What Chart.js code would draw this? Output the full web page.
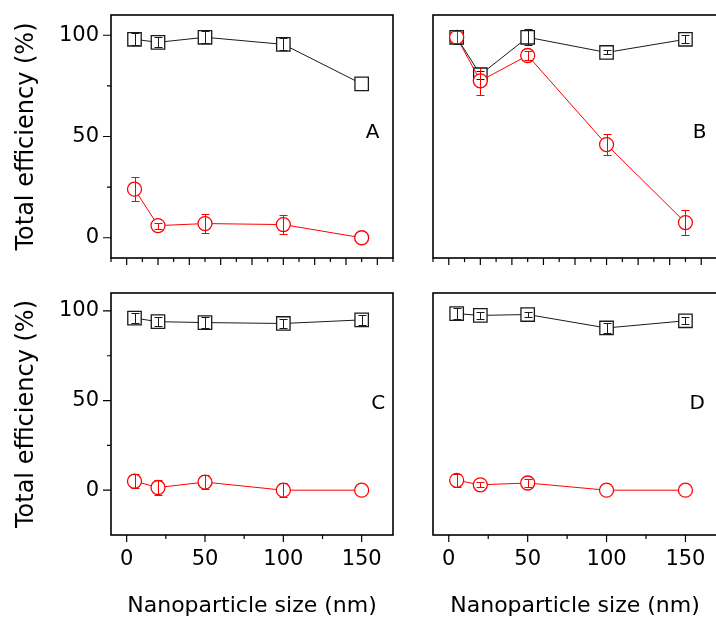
<!DOCTYPE html>
<html>
<head>
<meta charset="utf-8">
<title>Total efficiency vs nanoparticle size</title>
<script src="https://cdn.jsdelivr.net/npm/chart.js"></script>
<style>
  html, body { margin: 0; padding: 0; background: #fff; }
  body { width: 716px; height: 619px; position: relative; overflow: hidden; }
  canvas { position: absolute; }
  #panelA { left: 0; top: 0; }
  #panelB { left: 400px; top: 0; }
  #panelC { left: 0; top: 280px; }
  #panelD { left: 400px; top: 280px; }
</style>
</head>
<body>
<canvas id="panelA" width="400" height="280"></canvas>
<canvas id="panelB" width="318" height="280"></canvas>
<canvas id="panelC" width="400" height="339"></canvas>
<canvas id="panelD" width="318" height="339"></canvas>
<script>
// nanoparticle sizes (nm)
const sizes = [5, 20, 50, 100, 150];

// panel A
const squaresA = [98, 96.5, 99, 95.5, 76];
const squaresErrA = [3, 2.5, 3, 3, 0];
const circlesA = [24, 6, 7, 6.5, 0];
const circlesErrA = [6, 1.5, 4.5, 4.5, 0];

// panel B
const squaresB = [99, 80.5, 99, 91.5, 98];
const squaresErrB = [3.5, 2, 4, 1, 2];
const circlesB = [99, 77.5, 90, 46, 7.5];
const circlesErrB = [3, 7, 2, 5, 6];

// panel C
const squaresC = [96, 94, 93.5, 93, 95];
const squaresErrC = [3, 2.5, 3, 2.5, 3];
const circlesC = [5, 1.5, 4.5, 0, 0];
const circlesErrC = [4, 4, 4, 4, 0];

// panel D
const squaresD = [98.5, 97.5, 98, 90.5, 94.5];
const squaresErrD = [3, 2, 1.5, 3, 2];
const circlesD = [5.5, 3, 4, 0, 0];
const circlesErrD = [3.5, 1.5, 2, 0, 0];

// tick labels
const xTickLabels = [0, 50, 100, 150];
const yTickLabels = [0, 50, 100];

const FONT = 'DejaVu Sans';

function range(from, to, step) {
  const out = [];
  for (let v = from; v <= to + 1e-9; v += step) out.push(v);
  return out;
}

function pairs(values) {
  return sizes.map((s, i) => ({ x: s, y: values[i] }));
}

// vertical error bars with caps, drawn over the markers
const errorBars = {
  id: 'errorBars',
  afterDatasetsDraw(chart) {
    const ctx = chart.ctx;
    const xs = chart.scales.x, ys = chart.scales.y;
    chart.data.datasets.forEach(ds => {
      if (!ds.errors) return;
      ctx.save();
      ctx.strokeStyle = ds.borderColor;
      ctx.lineWidth = 1;
      ctx.beginPath();
      ds.data.forEach((p, i) => {
        const e = ds.errors[i];
        if (!e) return;
        const x = Math.round(xs.getPixelForValue(p.x)) + 0.5;
        const y1 = Math.round(ys.getPixelForValue(p.y + e)) + 0.5;
        const y2 = Math.round(ys.getPixelForValue(p.y - e)) + 0.5;
        ctx.moveTo(x, y1); ctx.lineTo(x, y2);
        ctx.moveTo(x - 4, y1); ctx.lineTo(x + 4, y1);
        ctx.moveTo(x - 4, y2); ctx.lineTo(x + 4, y2);
      });
      ctx.stroke();
      ctx.restore();
    });
  }
};

// box frame, outward ticks and the panel letter
const frame = {
  id: 'frame',
  afterDraw(chart, args, opts) {
    const { ctx, chartArea: a } = chart;
    const xs = chart.scales.x, ys = chart.scales.y;
    ctx.save();
    ctx.strokeStyle = '#000';
    ctx.lineWidth = 1.2;
    ctx.beginPath();
    opts.xMajor.forEach(v => { const p = xs.getPixelForValue(v); ctx.moveTo(p, a.bottom); ctx.lineTo(p, a.bottom + 7); });
    opts.xMinor.forEach(v => { const p = xs.getPixelForValue(v); ctx.moveTo(p, a.bottom); ctx.lineTo(p, a.bottom + 4); });
    opts.yMajor.forEach(v => { const p = ys.getPixelForValue(v); ctx.moveTo(a.left, p); ctx.lineTo(a.left - 8, p); });
    opts.yMinor.forEach(v => { const p = ys.getPixelForValue(v); ctx.moveTo(a.left, p); ctx.lineTo(a.left - 4, p); });
    ctx.stroke();
    ctx.lineWidth = 1.6;
    ctx.strokeRect(a.left, a.top, a.right - a.left, a.bottom - a.top);
    ctx.fillStyle = '#000';
    ctx.font = '20px "' + FONT + '"';
    ctx.textAlign = 'center';
    ctx.textBaseline = 'middle';
    ctx.fillText(opts.letter, xs.getPixelForValue(opts.letterAt[0]), ys.getPixelForValue(opts.letterAt[1]));
    ctx.restore();
  }
};

function makePanel(id, p) {
  new Chart(document.getElementById(id), {
    type: 'line',
    data: {
      datasets: [
        {
          data: pairs(p.squares), errors: p.squaresErr, order: 1,
          borderColor: '#1a1a1a', borderWidth: 1, tension: 0,
          pointStyle: 'rect', pointRadius: 9.5, pointBorderWidth: 1.3,
          pointBorderColor: '#1a1a1a', pointBackgroundColor: '#fff'
        },
        {
          data: pairs(p.circles), errors: p.circlesErr, order: 0,
          borderColor: '#ff0000', borderWidth: 1, tension: 0,
          pointStyle: 'circle', pointRadius: 7, pointBorderWidth: 1.3,
          pointBorderColor: '#ff0000', pointBackgroundColor: '#fff'
        }
      ]
    },
    options: {
      responsive: false,
      animation: false,
      events: [],
      layout: { autoPadding: false, padding: { top: p.padTop, right: p.padRight, left: 0, bottom: 0 } },
      plugins: {
        legend: { display: false },
        tooltip: { enabled: false },
        frame: {
          letter: p.letter, letterAt: p.letterAt,
          xMajor: p.xMajor, xMinor: p.xMinor,
          yMajor: p.yTicks ? [0, 50, 100] : [], yMinor: p.yTicks ? [25, 75] : []
        }
      },
      scales: {
        x: {
          type: 'linear', min: -10, max: 170,
          grid: { display: false, drawTicks: false },
          border: { display: false },
          afterBuildTicks: s => { s.ticks = xTickLabels.map(v => ({ value: v })); },
          ticks: { display: p.xLabels, padding: 12, color: '#000', font: { family: FONT, size: 21 } },
          title: {
            display: p.xLabels, text: 'Nanoparticle size (nm)', color: '#000',
            font: { family: FONT, size: 22 }, padding: { top: 0, bottom: 0 }
          },
          afterFit: s => { s.height = p.xHeight; s.paddingLeft = 0; s.paddingRight = 0; }
        },
        y: {
          type: 'linear', min: p.yMin, max: 110,
          grid: { display: false, drawTicks: false },
          border: { display: false },
          afterBuildTicks: s => { s.ticks = yTickLabels.map(v => ({ value: v })); },
          ticks: { display: p.yTicks, padding: 12, color: '#000', font: { family: FONT, size: 21 } },
          title: {
            display: p.yTicks, text: 'Total efficiency (%)', color: '#000',
            font: { family: FONT, size: 24 }, padding: { top: 12, bottom: 0 }
          },
          afterFit: s => { s.width = p.yWidth; s.paddingTop = 0; s.paddingBottom = 0; }
        }
      }
    },
    plugins: [errorBars, frame]
  });
}

const topMajor = range(0, 160, 20), topMinor = range(-10, 170, 20);
const botMajor = [0, 50, 100, 150], botMinor = [25, 75, 125];

makePanel('panelA', {
  squares: squaresA, squaresErr: squaresErrA, circles: circlesA, circlesErr: circlesErrA,
  letter: 'A', letterAt: [157, 52], yMin: -10, yTicks: true, xLabels: false,
  xMajor: topMajor, xMinor: topMinor, padTop: 15, padRight: 7, xHeight: 22, yWidth: 111
});
makePanel('panelB', {
  squares: squaresB, squaresErr: squaresErrB, circles: circlesB, circlesErr: circlesErrB,
  letter: 'B', letterAt: [159, 52], yMin: -10, yTicks: false, xLabels: false,
  xMajor: topMajor, xMinor: topMinor, padTop: 15, padRight: 1, xHeight: 22, yWidth: 33
});
makePanel('panelC', {
  squares: squaresC, squaresErr: squaresErrC, circles: circlesC, circlesErr: circlesErrC,
  letter: 'C', letterAt: [160.5, 48], yMin: -25, yTicks: true, xLabels: true,
  xMajor: botMajor, xMinor: botMinor, padTop: 13, padRight: 7, xHeight: 84, yWidth: 111
});
makePanel('panelD', {
  squares: squaresD, squaresErr: squaresErrD, circles: circlesD, circlesErr: circlesErrD,
  letter: 'D', letterAt: [157.5, 48], yMin: -25, yTicks: false, xLabels: true,
  xMajor: botMajor, xMinor: botMinor, padTop: 13, padRight: 1, xHeight: 84, yWidth: 33
});
</script>
</body>
</html>
